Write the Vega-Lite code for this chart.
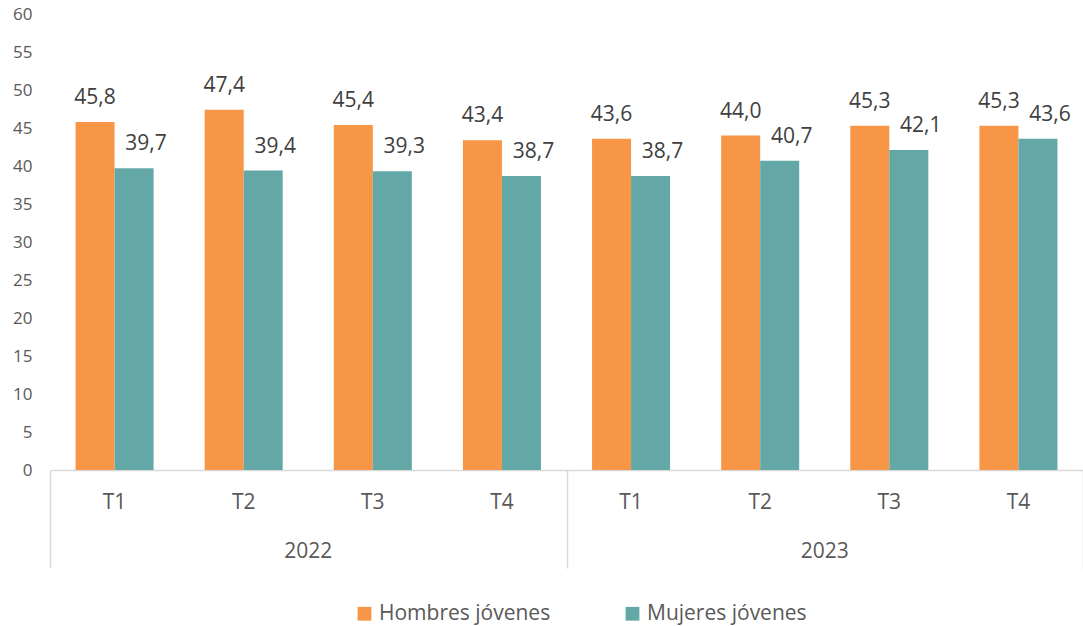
{
  "$schema": "https://vega.github.io/schema/vega-lite/v6.json",
  "width": 1033,
  "height": 456,
  "autosize": {"type": "none"},
  "padding": {"left": 50, "top": 14, "right": 0, "bottom": 156},
  "background": "white",
  "config": {
    "view": {"stroke": null},
    "font": "Open Sans",
    "axisY": {
      "title": null, "domain": false, "ticks": false, "grid": false, "labelOverlap": false,
      "labelFontSize": 17, "labelColor": "#595959", "labelPadding": 18
    },
    "locale": {"number": {"decimal": ",", "thousands": ".", "grouping": [3], "currency": ["", " €"]}}
  },
  "datasets": {
    "bars": [
      {"cat": "2022 T1", "serie": "Hombres jóvenes", "valor": 45.8},
      {"cat": "2022 T1", "serie": "Mujeres jóvenes", "valor": 39.7},
      {"cat": "2022 T2", "serie": "Hombres jóvenes", "valor": 47.4},
      {"cat": "2022 T2", "serie": "Mujeres jóvenes", "valor": 39.4},
      {"cat": "2022 T3", "serie": "Hombres jóvenes", "valor": 45.4},
      {"cat": "2022 T3", "serie": "Mujeres jóvenes", "valor": 39.3},
      {"cat": "2022 T4", "serie": "Hombres jóvenes", "valor": 43.4},
      {"cat": "2022 T4", "serie": "Mujeres jóvenes", "valor": 38.7},
      {"cat": "2023 T1", "serie": "Hombres jóvenes", "valor": 43.6},
      {"cat": "2023 T1", "serie": "Mujeres jóvenes", "valor": 38.7},
      {"cat": "2023 T2", "serie": "Hombres jóvenes", "valor": 44.0},
      {"cat": "2023 T2", "serie": "Mujeres jóvenes", "valor": 40.7},
      {"cat": "2023 T3", "serie": "Hombres jóvenes", "valor": 45.3},
      {"cat": "2023 T3", "serie": "Mujeres jóvenes", "valor": 42.1},
      {"cat": "2023 T4", "serie": "Hombres jóvenes", "valor": 45.3},
      {"cat": "2023 T4", "serie": "Mujeres jóvenes", "valor": 43.6}
    ],
    "years": [{"year": "2022"}, {"year": "2023"}]
  },
  "layer": [
    {
      "data": {"name": "bars"},
      "encoding": {
        "x": {
          "field": "cat", "type": "nominal", "sort": null,
          "scale": {"paddingInner": 0, "paddingOuter": 0},
          "axis": {
            "title": null, "ticks": false, "domainColor": "#D9D9D9", "domainWidth": 1.5,
            "labelExpr": "split(datum.value, ' ')[1]", "labelAngle": 0,
            "labelFontSize": 21, "labelColor": "#595959", "labelPadding": 21
          }
        },
        "xOffset": {
          "field": "serie", "type": "nominal", "sort": null,
          "scale": {"paddingInner": 0, "paddingOuter": 0.655}
        },
        "y": {
          "field": "valor", "type": "quantitative",
          "scale": {"domain": [0, 60], "nice": false},
          "axis": {"values": [0, 5, 10, 15, 20, 25, 30, 35, 40, 45, 50, 55, 60]}
        }
      },
      "layer": [
        {
          "mark": {"type": "bar"},
          "encoding": {
            "color": {
              "field": "serie", "type": "nominal",
              "scale": {"domain": ["Hombres jóvenes", "Mujeres jóvenes"], "range": ["#F79646", "#63A8A6"]},
              "legend": {
                "orient": "none", "legendX": 304, "legendY": 589, "direction": "horizontal",
                "title": null, "symbolType": "square", "symbolSize": 190, "symbolStrokeWidth": 0,
                "labelFontSize": 21, "labelColor": "#595959", "columnPadding": 71, "labelOffset": 4,
                "labelLimit": 0
              }
            }
          }
        },
        {
          "transform": [{"filter": "datum.serie == 'Hombres jóvenes'"}],
          "mark": {"type": "text", "dy": -24, "fontSize": 21, "color": "#404040"},
          "encoding": {"text": {"field": "valor", "type": "quantitative", "format": ".1f"}}
        },
        {
          "transform": [{"filter": "datum.serie == 'Mujeres jóvenes'"}],
          "mark": {"type": "text", "dy": -24, "dx": 12, "fontSize": 21, "color": "#404040"},
          "encoding": {"text": {"field": "valor", "type": "quantitative", "format": ".1f"}}
        }
      ]
    },
    {
      "data": {"name": "years"},
      "mark": {"type": "text", "fontSize": 21, "color": "#595959"},
      "encoding": {
        "x": {
          "field": "year", "type": "nominal",
          "scale": {"paddingInner": 0, "paddingOuter": 0},
          "axis": {
            "orient": "bottom", "title": null, "labels": false, "domain": false,
            "ticks": true, "tickBand": "extent", "tickSize": 98,
            "tickColor": "#D9D9D9", "tickWidth": 1.5
          }
        },
        "y": {
          "datum": -10.8, "type": "quantitative",
          "axis": {"values": [0, 5, 10, 15, 20, 25, 30, 35, 40, 45, 50, 55, 60]}
        },
        "text": {"field": "year"}
      }
    }
  ],
  "resolve": {"scale": {"x": "independent"}}
}
